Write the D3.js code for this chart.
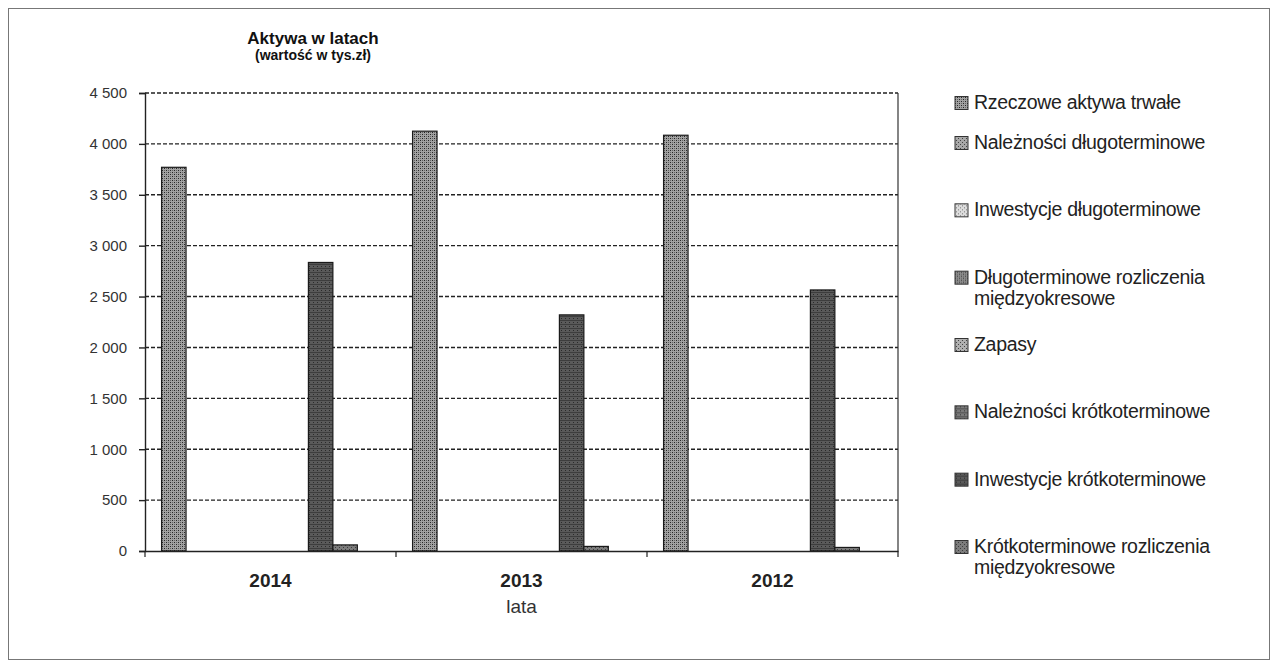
<!DOCTYPE html>
<html>
<head>
<meta charset="utf-8">
<script src="https://cdn.jsdelivr.net/npm/d3@7"></script>
<style>
  body { margin: 0; background: #fff; }
  svg { font-family: "Liberation Sans", Arial, sans-serif; }
</style>
</head>
<body>
<svg id="chart" width="1278" height="668"></svg>
<script>
// data
const years = ["2014", "2013", "2012"];
const seriesNames = [
  "Rzeczowe aktywa trwałe",
  "Należności długoterminowe",
  "Inwestycje długoterminowe",
  "Długoterminowe rozliczenia międzyokresowe",
  "Zapasy",
  "Należności krótkoterminowe",
  "Inwestycje krótkoterminowe",
  "Krótkoterminowe rozliczenia międzyokresowe"
];
// values per series, in year order 2014, 2013, 2012
const rzeczowe        = [3770, 4125, 4085];
const nalDlugo        = [0, 0, 0];
const invDlugo        = [0, 0, 0];
const rozlDlugo       = [0, 0, 0];
const zapasy          = [0, 0, 0];
const nalKrotko       = [0, 0, 0];
const invKrotko       = [2835, 2320, 2565];
const rozlKrotko      = [60, 45, 35];
const seriesValues = [rzeczowe, nalDlugo, invDlugo, rozlDlugo, zapasy, nalKrotko, invKrotko, rozlKrotko];
const yTicks = [0, 500, 1000, 1500, 2000, 2500, 3000, 3500, 4000, 4500];

// patterned greys, one per series
const fills = [
  { bg: "#a2a2a2", fg: "#262626", kind: "check" },
  { bg: "#a8a8a8", fg: "#444", kind: "dots" },
  { bg: "#dcdcdc", fg: "#777", kind: "dots" },
  { bg: "#8c8c8c", fg: "#3a3a3a", kind: "check" },
  { bg: "#b0b0b0", fg: "#444", kind: "dots" },
  { bg: "#7a7a7a", fg: "#333", kind: "lines" },
  { bg: "#5a5a5a", fg: "#2a2a2a", kind: "lines" },
  { bg: "#7c7c7c", fg: "#3c3c3c", kind: "dots" }
];

const svg = d3.select("#chart");
const plot = { left: 145, right: 898, top: 93, bottom: 551 };

svg.append("rect").attr("x", 8.5).attr("y", 8.5).attr("width", 1261).attr("height", 651)
  .attr("fill", "#fff").attr("stroke", "#777").attr("stroke-width", 1);

const defs = svg.append("defs");
fills.forEach((f, i) => {
  const p = defs.append("pattern").attr("id", "pat" + i)
    .attr("patternUnits", "userSpaceOnUse").attr("width", 4).attr("height", 4);
  p.append("rect").attr("width", 4).attr("height", 4).attr("fill", f.bg);
  if (f.kind === "check") {
    p.append("rect").attr("x", 0).attr("y", 0).attr("width", 1).attr("height", 1).attr("fill", f.fg);
    p.append("rect").attr("x", 2).attr("y", 2).attr("width", 1).attr("height", 1).attr("fill", f.fg);
    p.append("rect").attr("x", 2).attr("y", 0).attr("width", 1).attr("height", 1).attr("fill", f.fg).attr("opacity", 0.5);
    p.append("rect").attr("x", 0).attr("y", 2).attr("width", 1).attr("height", 1).attr("fill", f.fg).attr("opacity", 0.5);
  } else if (f.kind === "dots") {
    p.append("rect").attr("x", 1).attr("y", 1).attr("width", 1).attr("height", 1).attr("fill", f.fg);
    p.append("rect").attr("x", 3).attr("y", 3).attr("width", 1).attr("height", 1).attr("fill", f.fg);
  } else {
    p.append("rect").attr("x", 0).attr("y", 0).attr("width", 4).attr("height", 1).attr("fill", f.fg).attr("opacity", 0.6);
    p.append("rect").attr("x", 1).attr("y", 2).attr("width", 1).attr("height", 1).attr("fill", f.fg);
  }
});

const x0 = d3.scaleBand().domain(years).range([plot.left, plot.right]).paddingInner(0).paddingOuter(0);
const bw = x0.bandwidth();
const x1 = d3.scaleBand().domain(d3.range(seriesNames.length)).range([bw * 0.066, bw * 0.846]);
const y = d3.scaleLinear().domain([0, 4500]).range([plot.bottom, plot.top]);

const pl = d3.formatLocale({ decimal: ",", thousands: " ", grouping: [3], currency: ["", " zł"] });
const fmt = pl.format(",d");

// gridlines
svg.append("g").selectAll("line").data(yTicks.filter(d => d > 0)).join("line")
  .attr("x1", plot.left).attr("x2", plot.right)
  .attr("y1", d => y(d)).attr("y2", d => y(d))
  .attr("stroke", "#222").attr("stroke-width", 1.4).attr("stroke-dasharray", "4,2");

// right border of plot
svg.append("line").attr("x1", plot.right).attr("x2", plot.right).attr("y1", plot.top).attr("y2", plot.bottom)
  .attr("stroke", "#333").attr("stroke-width", 1.2);

// bars
const rows = [];
years.forEach((yr, yi) => seriesNames.forEach((s, si) => rows.push({ yr, si, v: seriesValues[si][yi] })));
svg.append("g").selectAll("rect").data(rows.filter(d => d.v > 0)).join("rect")
  .attr("x", d => x0(d.yr) + x1(d.si))
  .attr("width", x1.bandwidth())
  .attr("y", d => y(d.v))
  .attr("height", d => y(0) - y(d.v))
  .attr("fill", d => "url(#pat" + d.si + ")")
  .attr("stroke", "#1a1a1a").attr("stroke-width", 1.2);

// y axis
const ya = svg.append("g").attr("transform", `translate(${plot.left},0)`)
  .call(d3.axisLeft(y).tickValues(yTicks).tickFormat(fmt).tickSize(6).tickPadding(12));
ya.select(".domain").attr("stroke", "#222").attr("stroke-width", 1.4);
ya.selectAll(".tick line").attr("stroke", "#222").attr("stroke-width", 1.4);
ya.selectAll("text").attr("font-size", 15).attr("fill", "#333")
  .attr("font-family", "Liberation Sans, Arial, sans-serif");

// x axis
const xa = svg.append("g").attr("transform", `translate(0,${plot.bottom})`)
  .call(d3.axisBottom(x0).tickSize(0).tickPadding(23));
xa.select(".domain").attr("stroke", "#222").attr("stroke-width", 1.4);
xa.selectAll("text").attr("font-size", 19).attr("font-weight", "bold").attr("fill", "#222")
  .attr("font-family", "Liberation Sans, Arial, sans-serif");
// group separators
svg.append("g").selectAll("line").data(years.concat(["end"])).join("line")
  .attr("x1", (d, i) => plot.left + i * bw).attr("x2", (d, i) => plot.left + i * bw)
  .attr("y1", plot.bottom).attr("y2", plot.bottom + 6)
  .attr("stroke", "#222").attr("stroke-width", 1.2);

// titles
svg.append("text").attr("x", 313).attr("y", 44).attr("text-anchor", "middle")
  .attr("font-size", 17).attr("font-weight", "bold").attr("fill", "#111").text("Aktywa w latach");
svg.append("text").attr("x", 313).attr("y", 60).attr("text-anchor", "middle")
  .attr("font-size", 14).attr("font-weight", "bold").attr("fill", "#111").text("(wartość w tys.zł)");
svg.append("text").attr("x", (plot.left + plot.right) / 2).attr("y", 613).attr("text-anchor", "middle")
  .attr("font-size", 19).attr("fill", "#333").text("lata");

// legend: first entry sits closer, the rest are evenly spaced
const legY = d3.scalePoint().domain(d3.range(1, seriesNames.length)).range([143, 547]);
const legPos = i => i === 0 ? 103 : legY(i);
const leg = svg.append("g").selectAll("g").data(seriesNames).join("g")
  .attr("transform", (d, i) => `translate(955,${legPos(i)})`);
leg.append("rect").attr("x", 0).attr("y", -6.5).attr("width", 13).attr("height", 13)
  .attr("fill", (d, i) => "url(#pat" + i + ")").attr("stroke", "#333").attr("stroke-width", 1);
leg.each(function(d) {
  const t = d3.select(this).append("text").attr("x", 19).attr("y", 6)
    .attr("font-size", 19.5).attr("fill", "#222").attr("letter-spacing", -0.3);
  const words = d.split(" ");
  t.text(d);
  if (t.node().getComputedTextLength() > 280) {
    t.text(null);
    t.append("tspan").attr("x", 19).attr("dy", 0).text(words.slice(0, -1).join(" "));
    t.append("tspan").attr("x", 19).attr("dy", 21).text(words[words.length - 1]);
  }
});
</script>
</body>
</html>
